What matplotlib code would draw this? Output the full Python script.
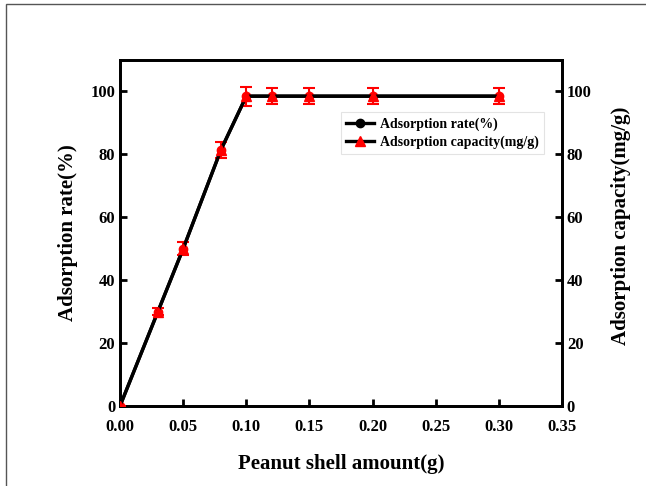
import numpy as np
import matplotlib.pyplot as plt
from matplotlib.patches import Rectangle
from matplotlib.lines import Line2D

plt.rcParams['font.family'] = ['Liberation Serif', 'DejaVu Serif']
plt.rcParams['font.weight'] = 'bold'

shell_amount = [0.0, 0.03, 0.05, 0.08, 0.10, 0.12, 0.15, 0.20, 0.30]
rate = [0.0, 30.0, 50.0, 81.5, 98.5, 98.5, 98.5, 98.5, 98.5]
capacity = [0.0, 30.0, 50.0, 81.5, 98.5, 98.5, 98.5, 98.5, 98.5]
cap_err = [0.0, 1.0, 2.0, 2.5, 3.0, 2.5, 2.5, 2.5, 2.5]

fig = plt.figure(figsize=(6.46, 4.86), dpi=100)
ax = fig.add_axes([120 / 646, 80 / 486, 442 / 646, 346 / 486])
ax2 = ax.twinx()

# outer frame (only top and left edges sit inside the canvas)
fig.patches.append(Rectangle((6 / 646, -0.1), 1.2, 1.1 - 4 / 486,
                             transform=fig.transFigure, fill=False,
                             edgecolor='#555555', linewidth=1.0))

ax.plot(shell_amount, rate, color='black', lw=2.4, marker='o', ms=6,
        mfc='red', mec='red', label='Adsorption rate(%)', zorder=3)
ax2.errorbar(shell_amount, capacity, yerr=cap_err, color='black', lw=2.4,
             marker='^', ms=7, mfc='red', mec='red', ecolor='red',
             elinewidth=1.5, capsize=4, capthick=1.5, zorder=4)

ax.set_xlim(0, 0.35)
ax.set_ylim(0, 110)
ax2.set_ylim(0, 110)
ax.set_xticks(np.arange(0, 0.351, 0.05))
ax.set_yticks(range(0, 101, 20))
ax2.set_yticks(range(0, 101, 20))

for a in (ax, ax2):
    for s in a.spines.values():
        s.set_linewidth(2.0)
    a.tick_params(direction='in', width=2.0, length=5, labelsize=12)
ax.tick_params(axis='x', pad=9)

ax.set_xlabel('Peanut shell amount(g)', fontsize=15, fontweight='bold', labelpad=14)
ax.set_ylabel('Adsorption rate(%)', fontsize=15, fontweight='bold')
ax.yaxis.set_label_coords(-0.095, 0.5)
ax2.set_ylabel('Adsorption capacity(mg/g)', fontsize=15, fontweight='bold')
ax2.yaxis.set_label_coords(1.11, 0.52)

handles = [
    Line2D([], [], color='black', lw=2.4, marker='o', ms=6, mfc='black', mec='black'),
    Line2D([], [], color='black', lw=2.4, marker='^', ms=7, mfc='red', mec='red'),
]
leg = ax.legend(handles, ['Adsorption rate(%)', 'Adsorption capacity(mg/g)'],
                loc='upper right', bbox_to_anchor=(0.975, 0.87), fontsize=10,
                frameon=True, fancybox=False, handlelength=2.0,
                handletextpad=0.4, borderpad=0.4, labelspacing=0.3)
leg.get_frame().set_edgecolor('#dddddd')
leg.get_frame().set_linewidth(0.8)

fig.savefig('out.png', dpi=100)
